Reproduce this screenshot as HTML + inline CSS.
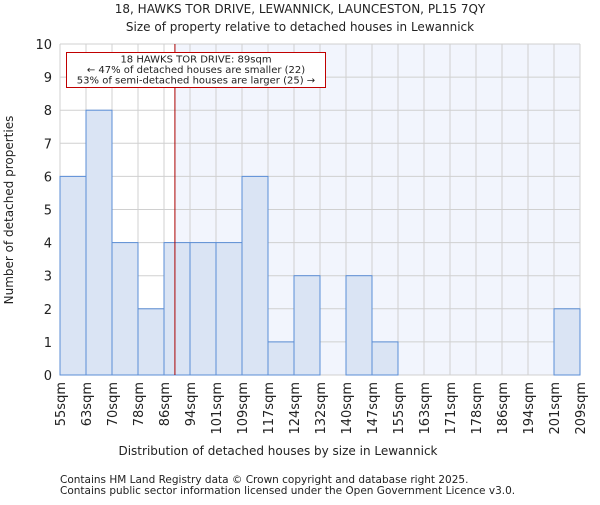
<!DOCTYPE html>
<html><head><meta charset="utf-8"><style>
body{margin:0;background:#fff;font-family:"Liberation Sans","DejaVu Sans",sans-serif;}
svg text{font-family:"DejaVu Sans","Liberation Sans",sans-serif;fill:#222;}
</style></head><body>
<svg id="chart" width="600" height="500">
<text x="300" y="13" font-size="12" text-anchor="middle">18, HAWKS TOR DRIVE, LEWANNICK, LAUNCESTON, PL15 7QY</text>
<text x="300" y="31" font-size="12" text-anchor="middle">Size of property relative to detached houses in Lewannick</text>
<g id="plot"></g>
<text x="278" y="455" font-size="12" text-anchor="middle">Distribution of detached houses by size in Lewannick</text>
<text transform="translate(13,210) rotate(-90)" font-size="12" text-anchor="middle">Number of detached properties</text>
<text x="60" y="483" font-size="10.5" fill="#444">Contains HM Land Registry data © Crown copyright and database right 2025.</text>
<text x="60" y="494" font-size="10.5" fill="#444">Contains public sector information licensed under the Open Government Licence v3.0.</text>
</svg>
<script>
const binLabels=["55sqm","63sqm","70sqm","78sqm","86sqm","94sqm","101sqm","109sqm","117sqm","124sqm","132sqm","140sqm","147sqm","155sqm","163sqm","171sqm","178sqm","186sqm","194sqm","201sqm","209sqm"];
const counts=[6,8,4,2,4,4,4,6,1,3,0,3,1,0,0,0,0,0,0,2];
const yTicks=[0,1,2,3,4,5,6,7,8,9,10];
const propertyBinPos=[4.42];
const NS="http://www.w3.org/2000/svg";
const g=document.getElementById('plot');
const L=60,R=580,T=44,B=375;
const bw=(R-L)/counts.length;
const x=i=>L+i*bw;
const y=v=>B-(B-T)*v/10;
function mk(t,a){const e=document.createElementNS(NS,t);for(const k in a)e.setAttribute(k,a[k]);g.appendChild(e);return e;}
const px=x(propertyBinPos[0]);
let e=mk('rect',{x:px,y:T,width:R-px,height:B-T,fill:'#f2f5fd'});


yTicks.forEach(v=>{const l=mk('line',{x1:L,x2:R,y1:y(v),y2:y(v),stroke:'#d0d0d0','stroke-width':1});


const t=mk('text',{x:L-8,y:y(v)+5,'font-size':13,'text-anchor':'end'});t.textContent=v;

});
binLabels.forEach((s,i)=>{const l=mk('line',{x1:x(i),x2:x(i),y1:T,y2:B,stroke:'#d0d0d0','stroke-width':1});


const t=mk('text',{transform:`translate(${x(i)+5},382) rotate(-90)`,'font-size':13,'text-anchor':'end'});t.textContent=s;

});
counts.forEach((c,i)=>{if(!c)return;const r=mk('rect',{x:x(i),y:y(c),width:bw,height:B-y(c),fill:'#dae4f4',stroke:'#5b8ed6','stroke-width':1});

});
e=mk('line',{x1:px,x2:px,y1:T,y2:B,stroke:'#aa0000','stroke-width':1});


e=mk('rect',{x:66.5,y:52.5,width:259,height:35,fill:'#fff',stroke:'#c00000','stroke-width':1});


["18 HAWKS TOR DRIVE: 89sqm","← 47% of detached houses are smaller (22)","53% of semi-detached houses are larger (25) →"].forEach((s,i)=>{const t=mk('text',{x:196,y:62.5+i*10.5,'font-size':10,'text-anchor':'middle'});t.textContent=s;

});
</script>
</body></html>
